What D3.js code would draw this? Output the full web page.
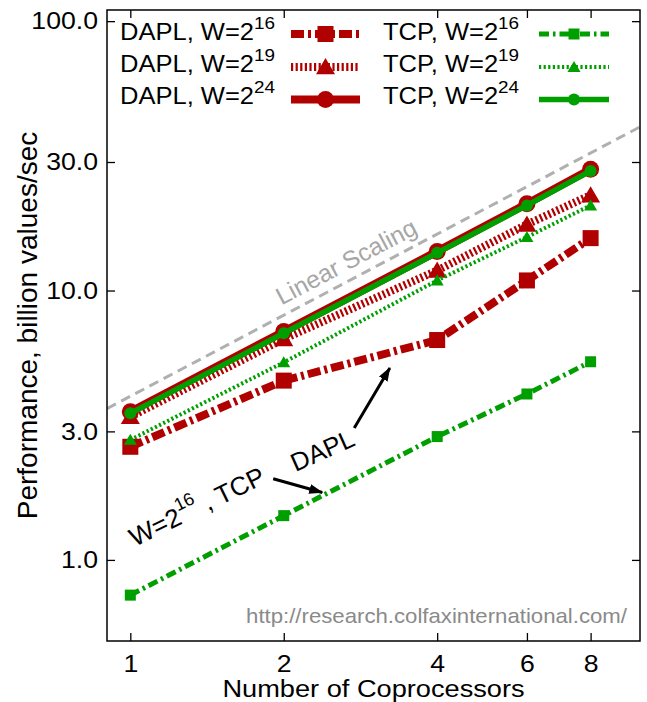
<!DOCTYPE html>
<html>
<head>
<meta charset="utf-8">
<script src="https://cdn.jsdelivr.net/npm/d3@7"></script>
<style>
  body { margin: 0; background: #fff; }
  svg { display: block; }
</style>
</head>
<body>
<div id="chart"></div>
<script>
// Donnees
const coprocessors = [1, 2, 4, 6, 8];
const dapl16 = [2.63, 4.63, 6.55, 10.9, 15.65];
const dapl19 = [3.4, 6.61, 11.87, 17.6, 22.6];
const dapl24 = [3.55, 7.04, 13.97, 21.0, 28.2];
const tcp16 = [0.74, 1.46, 2.87, 4.13, 5.44];
const tcp19 = [2.79, 5.41, 10.9, 15.8, 20.7];
const tcp24 = [3.5, 6.94, 13.8, 20.7, 27.8];
const yTicks = [1, 3, 10, 30, 100];
const linearPerCoprocessor = 4.05;

// Annotations (coordonnees en donnees)
const noteTcp = {n: 1.02, v: 1.117};
const noteDapl = {n: 2.11, v: 2.12};
const noteLinear = {n: 1.98, v: 8.8};
const arrowTcp = {from: [1.907, 2.0], to: [2.38, 1.78]};
const arrowDapl = {from: [2.75, 3.09], to: [3.23, 5.16]};

const RED = "#b00000", GREEN = "#009f00";
const FONT = '"Liberation Sans", Arial, Helvetica, sans-serif';
const SX = 1.11; // le texte de l'original est un peu etire horizontalement

const margin = {top: 10, right: 7, bottom: 61, left: 107},
    width = 647 - margin.left - margin.right,
    height = 702 - margin.top - margin.bottom;

const root = d3.select("#chart")
    .append("svg")
    .attr("width", width + margin.left + margin.right)
    .attr("height", height + margin.top + margin.bottom)
    .attr("font-family", FONT);

const svg = root.append("g")
    .attr("transform", `translate(${margin.left},${margin.top})`);

const x = d3.scaleLog().domain([0.9, 10]).range([0, width]);
const y = d3.scaleLog().domain([0.5, 110]).range([height, 0]);

const defs = root.append("defs");
defs.append("clipPath").attr("id", "plot-clip")
    .append("rect").attr("width", width).attr("height", height);
defs.append("marker")
    .attr("id", "arrow")
    .attr("viewBox", "0 0 14 10")
    .attr("refX", 13).attr("refY", 5)
    .attr("markerWidth", 14).attr("markerHeight", 10)
    .attr("markerUnits", "userSpaceOnUse")
    .attr("orient", "auto")
    .append("path").attr("d", "M0,0L14,5L0,10Z").attr("fill", "#000");

// Axes
svg.append("g")
    .attr("transform", `translate(0,${height})`)
    .call(d3.axisBottom(x).tickValues(coprocessors).tickFormat(d3.format("d"))
        .tickSizeInner(-8).tickSizeOuter(0))
    .call(g => g.select(".domain").remove())
    .attr("font-family", FONT).attr("font-size", 24)
    .call(g => g.selectAll("line").attr("stroke-width", 1.3))
    .call(g => g.selectAll("text").attr("y", 31).attr("dy", null)
        .attr("transform", `scale(${SX},1)`));

svg.append("g")
    .call(d3.axisTop(x).tickValues(coprocessors).tickFormat("")
        .tickSizeInner(-8).tickSizeOuter(0))
    .call(g => g.select(".domain").remove())
    .call(g => g.selectAll("line").attr("stroke-width", 1.3));

svg.append("g")
    .call(d3.axisLeft(y).tickValues(yTicks).tickFormat(d3.format(".1f"))
        .tickSizeInner(-8).tickSizeOuter(0))
    .call(g => g.select(".domain").remove())
    .attr("font-family", FONT).attr("font-size", 24)
    .call(g => g.selectAll("line").attr("stroke-width", 1.3))
    .call(g => g.selectAll("text").attr("x", 0)
        .attr("transform", `translate(-9,0) scale(${SX},1)`));

svg.append("g")
    .attr("transform", `translate(${width},0)`)
    .call(d3.axisRight(y).tickValues(yTicks).tickFormat("")
        .tickSizeInner(-8).tickSizeOuter(0))
    .call(g => g.select(".domain").remove())
    .call(g => g.selectAll("line").attr("stroke-width", 1.3));

// Titres des axes
svg.append("text")
    .attr("transform", `translate(${width / 2},687) scale(${SX},1)`)
    .attr("text-anchor", "middle")
    .attr("font-size", 24.5)
    .text("Number of Coprocessors");

svg.append("text")
    .attr("transform", `translate(-70,${height / 2}) rotate(-90)`)
    .attr("text-anchor", "middle")
    .attr("font-size", 28)
    .text("Performance, billion values/sec");

// Mise a l'echelle lineaire
const plot = svg.append("g").attr("clip-path", "url(#plot-clip)");
const line = d3.line().x(d => x(d.n)).y(d => y(d.v));

plot.append("path")
    .datum(x.domain().map(n => ({n: n, v: linearPerCoprocessor * n})))
    .attr("fill", "none")
    .attr("stroke", "#b0b0b0")
    .attr("stroke-width", 3)
    .attr("stroke-dasharray", "10,6")
    .attr("d", line);

const slopeAngle = Math.atan2(y(linearPerCoprocessor) - y(linearPerCoprocessor * 2), x(2) - x(1)) * 180 / Math.PI;
svg.append("text")
    .attr("transform", `translate(${x(noteLinear.n)},${y(noteLinear.v)}) rotate(${-slopeAngle})`)
    .attr("font-size", 24.5)
    .attr("fill", "#a6a6a6")
    .text("Linear Scaling");

// Series
const series = [
    {name: "DAPL", w: "16", values: dapl16, color: RED, lw: 8, dash: "13,4,3,4", marker: "square", size: 16},
    {name: "DAPL", w: "19", values: dapl19, color: RED, lw: 8, dash: "2.2,2.4", marker: "triangle", size: 19},
    {name: "DAPL", w: "24", values: dapl24, color: RED, lw: 8, dash: null, marker: "circle", size: 17},
    {name: "TCP", w: "16", values: tcp16, color: GREEN, lw: 5, dash: "10,4,2.5,4", marker: "square", size: 11},
    {name: "TCP", w: "19", values: tcp19, color: GREEN, lw: 4, dash: "2.2,2.4", marker: "triangle", size: 13},
    {name: "TCP", w: "24", values: tcp24, color: GREEN, lw: 5.5, dash: null, marker: "circle", size: 12}
];

function drawMarker(g, s, cx, cy) {
    if (s.marker === "square") {
        g.append("rect")
            .attr("x", cx - s.size / 2).attr("y", cy - s.size / 2)
            .attr("width", s.size).attr("height", s.size)
            .attr("fill", s.color);
    } else if (s.marker === "circle") {
        g.append("circle").attr("cx", cx).attr("cy", cy).attr("r", s.size / 2)
            .attr("fill", s.color);
    } else {
        const h = s.size * 0.85;
        g.append("path")
            .attr("d", `M${cx},${cy - h * 0.55}L${cx + s.size / 2},${cy + h * 0.45}L${cx - s.size / 2},${cy + h * 0.45}Z`)
            .attr("fill", s.color);
    }
}

series.forEach(s => {
    const pts = coprocessors.map((n, i) => ({n: n, v: s.values[i]}));
    plot.append("path")
        .datum(pts)
        .attr("fill", "none")
        .attr("stroke", s.color)
        .attr("stroke-width", s.lw)
        .attr("stroke-dasharray", s.dash)
        .attr("d", line);
    pts.forEach(p => drawMarker(plot, s, x(p.n), y(p.v)));
});

// Legende
const legendTextX = [13, 276], legendLineX = [[184, 253], [432, 502]];
const legendLineY = [24, 57, 89.5], legendTextY = [30, 62, 94];
series.forEach((s, i) => {
    const col = s.name === "DAPL" ? 0 : 1, row = i % 3;
    const t = svg.append("text")
        .attr("transform", `translate(${legendTextX[col]},${legendTextY[row]}) scale(${SX},1)`)
        .attr("font-size", 23);
    t.append("tspan").text(`${s.name}, W=2`);
    t.append("tspan").attr("dy", -11).attr("font-size", 17).text(s.w);
    const [x1, x2] = legendLineX[col];
    svg.append("line")
        .attr("x1", x1).attr("x2", x2)
        .attr("y1", legendLineY[row]).attr("y2", legendLineY[row])
        .attr("stroke", s.color).attr("stroke-width", s.lw)
        .attr("stroke-dasharray", s.dash);
    drawMarker(svg, s, (x1 + x2) / 2, legendLineY[row]);
});

// Annotations
const tcpNote = svg.append("text")
    .attr("transform", `translate(${x(noteTcp.n)},${y(noteTcp.v)}) rotate(-26)`)
    .attr("font-size", 26);
tcpNote.append("tspan").text("W=2");
tcpNote.append("tspan").attr("dy", -13).attr("font-size", 18).text("16");
tcpNote.append("tspan").attr("dy", 13).text(" , TCP");

svg.append("text")
    .attr("transform", `translate(${x(noteDapl.n)},${y(noteDapl.v)}) rotate(-24)`)
    .attr("font-size", 25.5)
    .text("DAPL");

[arrowTcp, arrowDapl].forEach(a => {
    svg.append("line")
        .attr("x1", x(a.from[0])).attr("y1", y(a.from[1]))
        .attr("x2", x(a.to[0])).attr("y2", y(a.to[1]))
        .attr("stroke", "#000").attr("stroke-width", 3)
        .attr("marker-end", "url(#arrow)");
});

svg.append("text")
    .attr("transform", `translate(520,613) scale(${SX},1)`)
    .attr("text-anchor", "end")
    .attr("font-size", 20)
    .attr("fill", "#8a8a8a")
    .text("http://research.colfaxinternational.com/");

// Cadre
svg.append("rect")
    .attr("width", width).attr("height", height)
    .attr("fill", "none").attr("stroke", "#000").attr("stroke-width", 1.5);
</script>
</body>
</html>
